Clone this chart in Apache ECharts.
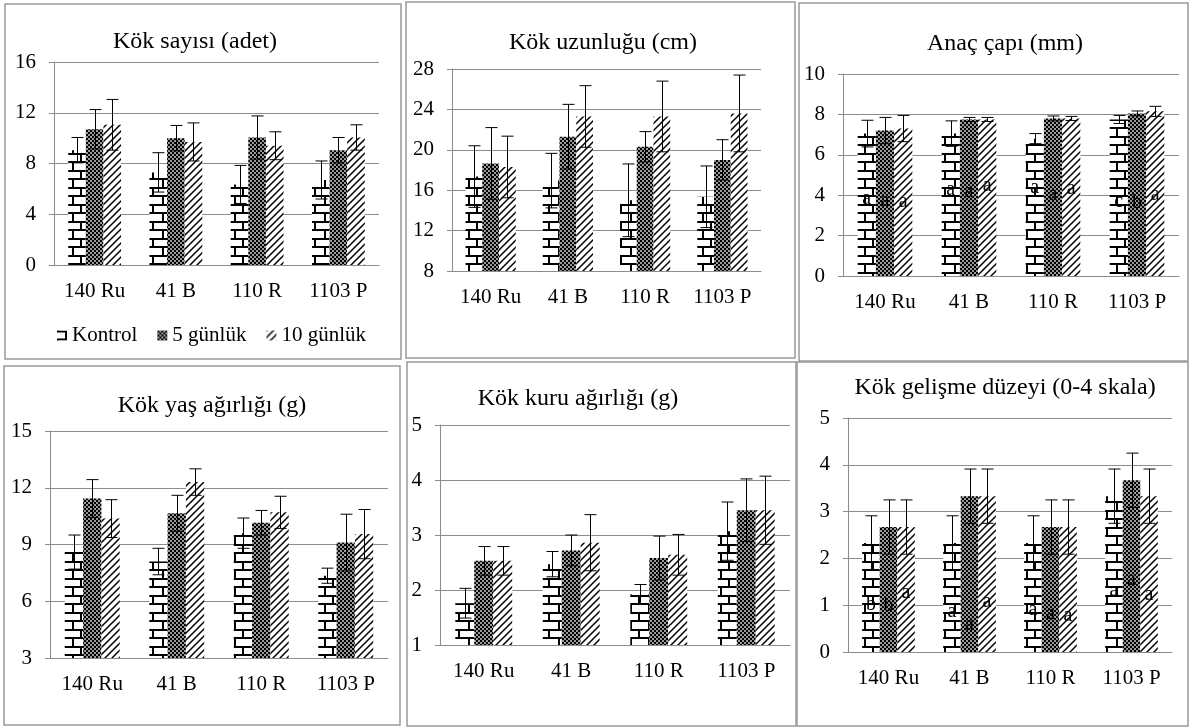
<!DOCTYPE html>
<html>
<head>
<meta charset="utf-8">
<script src="https://cdn.jsdelivr.net/npm/echarts@6/dist/echarts.min.js"></script>
<style>
  html, body { margin: 0; padding: 0; background: #fff; }
  #main { width: 1190px; height: 728px; }
</style>
</head>
<body>
<div id="main"></div>
<script>
  const categories = ['140 Ru', '41 B', '110 R', '1103 P'];
  const treatments = ['Kontrol', '5 günlük', '10 günlük'];

  // Kök sayısı (adet)
  const sayiKontrol = [9.05, 7.3, 6.35, 6.7];
  const sayi5 = [10.7, 10.0, 10.05, 9.05];
  const sayi10 = [11.05, 9.7, 9.4, 10.05];
  const sayiKontrolErr = [1.0, 1.55, 1.5, 1.5];
  const sayi5Err = [1.55, 1.0, 1.7, 1.0];
  const sayi10Err = [2.0, 1.5, 1.1, 1.0];

  // Kök uzunluğu (cm)
  const uzunKontrol = [17.35, 16.95, 15.0, 15.35];
  const uzun5 = [18.65, 21.3, 20.3, 19.0];
  const uzun10 = [18.3, 23.3, 23.3, 23.6];
  const uzunKontrolErr = [3.05, 2.7, 3.6, 3.05];
  const uzun5Err = [3.55, 3.2, 1.5, 2.0];
  const uzun10Err = [3.05, 3.05, 3.5, 3.8];

  // Anaç çapı (mm)
  const capKontrol = [7.05, 7.05, 6.8, 7.75];
  const cap5 = [7.2, 7.75, 7.8, 8.05];
  const cap10 = [7.3, 7.75, 7.8, 8.15];
  const capKontrolErr = [0.66, 0.63, 0.25, 0.2];
  const cap5Err = [0.65, 0.1, 0.12, 0.12];
  const cap10Err = [0.65, 0.1, 0.1, 0.25];
  const capHarfKontrol = ['a', 'a', 'a', 'c'];
  const capHarf5 = ['a', 'a', 'a', 'b'];
  const capHarf10 = ['a', 'a', 'a', 'a'];
  const capHarfKontrolY = [3.8, 4.28, 4.38, 3.7];
  const capHarf5Y = [3.75, 4.17, 4.0, 3.62];
  const capHarf10Y = [3.7, 4.45, 4.33, 4.0];

  // Kök yaş ağırlığı (g)
  const yasKontrol = [8.6, 8.1, 9.6, 7.35];
  const yas5 = [11.43, 10.65, 10.15, 9.1];
  const yas10 = [10.37, 12.3, 10.7, 9.55];
  const yasKontrolErr = [0.9, 0.7, 0.8, 0.4];
  const yas5Err = [1.0, 0.95, 0.65, 1.5];
  const yas10Err = [1.0, 0.7, 0.85, 1.3];

  // Kök kuru ağırlığı (g)
  const kuruKontrol = [1.76, 2.47, 1.92, 3.07];
  const kuru5 = [2.53, 2.72, 2.58, 3.45];
  const kuru10 = [2.53, 2.86, 2.64, 3.45];
  const kuruKontrolErr = [0.27, 0.23, 0.18, 0.53];
  const kuru5Err = [0.26, 0.28, 0.4, 0.57];
  const kuru10Err = [0.26, 0.51, 0.37, 0.62];

  // Kök gelişme düzeyi (0-4 skala)
  const gelisKontrol = [2.33, 2.33, 2.33, 3.33];
  const gelis5 = [2.67, 3.33, 2.67, 3.67];
  const gelis10 = [2.67, 3.33, 2.67, 3.33];
  const gelisKontrolErr = [0.58, 0.58, 0.58, 0.58];
  const gelis5Err = [0.58, 0.58, 0.58, 0.58];
  const gelis10Err = [0.58, 0.58, 0.58, 0.58];
  const gelisHarfKontrol = ['b', 'a', 'a', 'a'];
  const gelisHarf5 = ['b', 'a', 'a', 'a'];
  const gelisHarf10 = ['a', 'a', 'a', 'a'];
  const gelisHarfKontrolY = [1.01, 0.85, 0.9, 1.31];
  const gelisHarf5Y = [0.99, 0.58, 0.82, 1.55];
  const gelisHarf10Y = [1.26, 1.08, 0.78, 1.23];

  const FONT = "'Liberation Serif', 'Times New Roman', serif";
  const GRAY = '#8c8c8c';
  const GAP = 0.35; // barCategoryGap

  // desen dolguları
  function tuglaDeseni() {
    const c = document.createElement('canvas');
    c.width = 18; c.height = 17;
    const g = c.getContext('2d');
    g.fillStyle = '#fff'; g.fillRect(0, 0, 18, 17);
    g.fillStyle = '#000';
    g.fillRect(0, 0, 18, 2);
    g.fillRect(0, 8, 18, 2);
    g.fillRect(8, 2, 2, 6);
    g.fillRect(0, 10, 2, 7);
    return c;
  }
  function damaDeseni() {
    const c = document.createElement('canvas');
    c.width = 4; c.height = 4;
    const g = c.getContext('2d');
    g.fillStyle = '#9a9a9a'; g.fillRect(0, 0, 4, 4);
    g.fillStyle = '#000';
    g.fillRect(0, 0, 2, 2);
    g.fillRect(2, 2, 2, 2);
    return c;
  }
  function tarama() {
    const s = 7;
    const c = document.createElement('canvas');
    c.width = s; c.height = s;
    const g = c.getContext('2d');
    g.fillStyle = '#fff'; g.fillRect(0, 0, s, s);
    g.strokeStyle = '#000'; g.lineWidth = 1.5;
    g.beginPath();
    g.moveTo(-1, s + 1); g.lineTo(s + 1, -1);
    g.moveTo(-s / 2 - 1, s / 2 + 1); g.lineTo(s / 2 + 1, -s / 2 - 1);
    g.moveTo(s / 2 - 1, s * 1.5 + 1); g.lineTo(s * 1.5 + 1, s / 2 - 1);
    g.stroke();
    return c;
  }
  const fills = [
    { image: tuglaDeseni(), repeat: 'repeat' },
    { image: damaDeseni(), repeat: 'repeat' },
    { image: tarama(), repeat: 'repeat' }
  ];

  const panels = [
    { title: 'Kök sayısı (adet)', min: 0, max: 16, step: 4,
      mean: [sayiKontrol, sayi5, sayi10], err: [sayiKontrolErr, sayi5Err, sayi10Err],
      grid: [54, 62, 325, 203], box: [5, 4, 396, 355], titlePos: [195, 42] },
    { title: 'Kök uzunluğu (cm)', min: 8, max: 28, step: 4,
      mean: [uzunKontrol, uzun5, uzun10], err: [uzunKontrolErr, uzun5Err, uzun10Err],
      grid: [452, 69, 309, 202], box: [406, 2, 389, 356], titlePos: [603, 43] },
    { title: 'Anaç çapı (mm)', min: 0, max: 10, step: 2,
      mean: [capKontrol, cap5, cap10], err: [capKontrolErr, cap5Err, cap10Err],
      letters: [capHarfKontrol, capHarf5, capHarf10], letterY: [capHarfKontrolY, capHarf5Y, capHarf10Y],
      grid: [843, 74, 336, 202], box: [799, 3, 389, 358], titlePos: [1005, 44] },
    { title: 'Kök yaş ağırlığı (g)', min: 3, max: 15, step: 3,
      mean: [yasKontrol, yas5, yas10], err: [yasKontrolErr, yas5Err, yas10Err],
      grid: [50, 431, 338, 227], box: [4, 366, 396, 359], titlePos: [212, 406] },
    { title: 'Kök kuru ağırlığı (g)', min: 1, max: 5, step: 1,
      mean: [kuruKontrol, kuru5, kuru10], err: [kuruKontrolErr, kuru5Err, kuru10Err],
      grid: [440, 425, 350, 220], box: [407, 362, 389, 364], titlePos: [578, 399] },
    { title: 'Kök gelişme düzeyi (0-4 skala)', min: 0, max: 5, step: 1,
      mean: [gelisKontrol, gelis5, gelis10], err: [gelisKontrolErr, gelis5Err, gelis10Err],
      letters: [gelisHarfKontrol, gelisHarf5, gelisHarf10], letterY: [gelisHarfKontrolY, gelisHarf5Y, gelisHarf10Y],
      grid: [848, 418, 324, 234], box: [797, 362, 391, 364], titlePos: [1005, 388] }
  ];

  // hata çubukları
  function hataCubugu(params, api) {
    const c = api.value(0), k = api.value(3);
    const bw = api.size([1, 0])[0] * (1 - GAP) / 3;
    const top = api.coord([c, api.value(2)]);
    const bot = api.coord([c, api.value(1)]);
    const x = Math.round(top[0] + (k - 1) * bw) + 0.5;
    const cap = 6;
    const st = { stroke: '#000', lineWidth: 1 };
    return {
      type: 'group',
      children: [
        { type: 'line', shape: { x1: x, y1: top[1], x2: x, y2: bot[1] }, style: st },
        { type: 'line', shape: { x1: x - cap, y1: top[1], x2: x + cap, y2: top[1] }, style: st },
        { type: 'line', shape: { x1: x - cap, y1: bot[1], x2: x + cap, y2: bot[1] }, style: st }
      ]
    };
  }

  const chart = echarts.init(document.getElementById('main'));
  const option = {
    animation: false,
    backgroundColor: '#fff',
    textStyle: { fontFamily: FONT },
    legend: {
      data: treatments, left: 52, top: 320, icon: 'rect',
      itemWidth: 10, itemHeight: 10, itemGap: 20, selectedMode: false,
      textStyle: { fontFamily: FONT, fontSize: 21, color: '#000' }
    },
    grid: [], xAxis: [], yAxis: [], series: [], graphic: []
  };

  panels.forEach((p, i) => {
    option.grid.push({ left: p.grid[0], top: p.grid[1], width: p.grid[2], height: p.grid[3] });
    option.xAxis.push({
      type: 'category', gridIndex: i, data: categories,
      axisLine: { lineStyle: { color: GRAY } },
      axisTick: { length: 5, lineStyle: { color: GRAY } },
      axisLabel: { color: '#000', fontFamily: FONT, fontSize: 21, margin: 16, interval: 0, hideOverlap: false }
    });
    option.yAxis.push({
      type: 'value', gridIndex: i, min: p.min, max: p.max, interval: p.step,
      axisLine: { show: true, lineStyle: { color: GRAY } },
      axisTick: { show: true, length: 5, lineStyle: { color: GRAY } },
      splitLine: { lineStyle: { color: GRAY } },
      axisLabel: { color: '#000', fontFamily: FONT, fontSize: 21, margin: 18 }
    });
    treatments.forEach((name, k) => {
      option.series.push({
        type: 'bar', name: name, xAxisIndex: i, yAxisIndex: i,
        data: p.mean[k], barGap: '0%', barCategoryGap: (GAP * 100) + '%',
        itemStyle: { color: fills[k] }, z: 2
      });
    });
    const eb = [];
    treatments.forEach((name, k) => {
      categories.forEach((cat, c) => {
        eb.push([c, p.mean[k][c] - p.err[k][c], p.mean[k][c] + p.err[k][c], k]);
      });
    });
    option.series.push({
      type: 'custom', xAxisIndex: i, yAxisIndex: i, data: eb,
      renderItem: hataCubugu, z: 5, silent: true
    });
    if (p.letters) {
      const ld = [], txt = [];
      treatments.forEach((name, k) => {
        categories.forEach((cat, c) => {
          ld.push([c, p.letterY[k][c], k]);
          txt.push(p.letters[k][c]);
        });
      });
      option.series.push({
        type: 'custom', xAxisIndex: i, yAxisIndex: i, data: ld, z: 6, silent: true,
        renderItem: function (params, api) {
          const c = api.value(0), k = api.value(2);
          const bw = api.size([1, 0])[0] * (1 - GAP) / 3;
          const pt = api.coord([c, api.value(1)]);
          return {
            type: 'text', x: pt[0] + (k - 1) * bw, y: pt[1],
            style: {
              text: txt[params.dataIndex], font: '20px ' + FONT, fill: '#000',
              textAlign: 'center', textVerticalAlign: 'middle'
            }
          };
        }
      });
    }
    option.graphic.push({
      type: 'rect', silent: true,
      shape: { x: p.box[0], y: p.box[1], width: p.box[2], height: p.box[3] },
      style: { fill: 'none', stroke: '#9a9a9a', lineWidth: 1.5 }
    });
    option.graphic.push({
      type: 'text', silent: true, x: p.titlePos[0], y: p.titlePos[1],
      style: {
        text: p.title, font: '24px ' + FONT, fill: '#000',
        textAlign: 'center', textVerticalAlign: 'middle'
      }
    });
  });

  chart.setOption(option);
</script>
</body>
</html>
